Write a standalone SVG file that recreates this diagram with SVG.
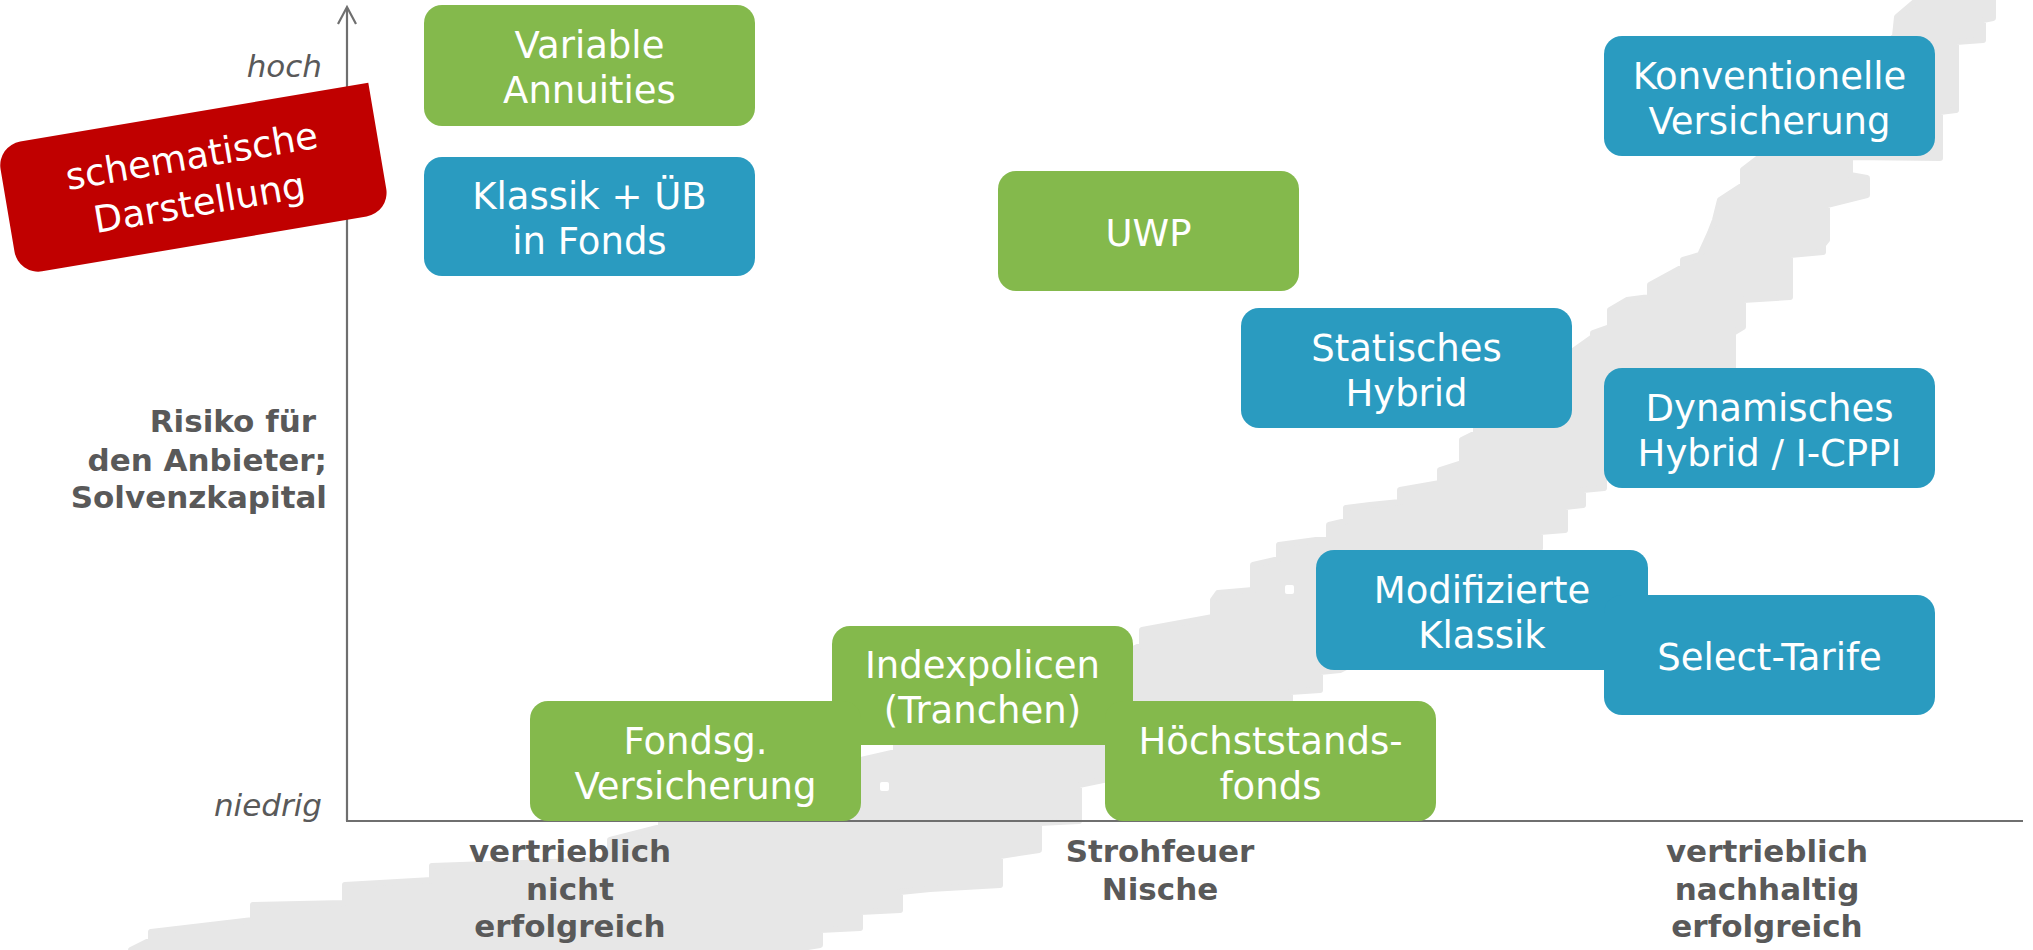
<svg xmlns="http://www.w3.org/2000/svg" width="2033" height="950" viewBox="0 0 2033 950">
<style>
.bg{fill:#e7e7e7;stroke:#e7e7e7;stroke-width:6;stroke-linejoin:round}
.g{fill:#84b94c}
.b{fill:#2a9bc0}
.t{font-family:"DejaVu Sans",Verdana,sans-serif;font-size:37px;fill:#ffffff;text-anchor:middle}
.ax{stroke:#6f6f6f;stroke-width:2.2;fill:none}
.lab{font-family:"DejaVu Sans",Verdana,sans-serif;font-size:31px;font-weight:bold;fill:#595959}
.it{font-family:"DejaVu Sans",Verdana,sans-serif;font-size:31px;font-style:italic;fill:#595959;text-anchor:end}
</style>
<rect width="2033" height="950" fill="#ffffff"/>
<g id="background">
<path class="bg" d="M1917,0 L1993,0 L1993,18 L1983,20 L1983,40 L1956,42 L1956,110 L1940,112 L1940,158 L1850,157 L1850,175 L1867,178 L1867,195 L1827,205 L1827,240 L1823,245 L1823,252 L1790,255 L1790,297 L1743,300 L1743,327 L1733,333 L1733,380 L1604,420 L1604,488 L1583,490 L1583,505 L1565,507 L1565,530 L1540,532 L1540,548 L1520,550 L1400,640 L1340,670 L1320,672 L1320,690 L1290,692 L1290,701 L1200,760 L1079,785 L1079,821 L1039,823 L1039,850 L1000,856 L1000,885 L930,889 L900,892 L900,910 L860,912 L860,928 L820,930 L820,945 L790,950 L131,950 L151,940 L151,932 L253,920 L253,905 L345,903 L345,885 L432,880 L432,866 L610,860 L610,840 L661,827 L661,815 L861,760 L896,752 L896,745 L1133,649 L1142,645 L1142,630 L1213,617 L1213,600 L1218,593 L1253,590 L1253,565 L1279,559 L1279,545 L1316,540 L1329,540 L1329,525 L1346,521 L1346,508 L1370,505 L1400,502 L1400,490 L1440,483 L1440,470 L1462,463 L1462,440 L1476,433 L1476,420 L1593,337 L1593,333 L1610,327 L1610,310 L1627,300 L1650,297 L1650,285 L1683,267 L1683,260 L1700,255 L1710,233 L1715,220 L1720,200 L1743,185 L1743,170 L1760,157 L1759,150 L1895,36 L1897,17 Z"/>
<rect x="880" y="782" width="9" height="9" rx="2" fill="#ffffff"/>
<rect x="1285" y="585" width="9" height="9" rx="2" fill="#ffffff"/>
</g>
<g id="axes">
<line class="ax" x1="347" y1="8" x2="347" y2="821"/>
<line class="ax" x1="346" y1="821" x2="2023" y2="821"/>
<polyline class="ax" points="338,24 347,7 356,24"/>
</g>
<g id="axis-labels">
<text class="it" x="322" y="77">hoch</text>
<text class="it" x="322" y="816">niedrig</text>
<text class="lab" text-anchor="end" x="316" y="432">Risiko für</text>
<text class="lab" text-anchor="end" x="327" y="471">den Anbieter;</text>
<text class="lab" text-anchor="end" x="327" y="508">Solvenzkapital</text>
<text class="lab" text-anchor="middle" x="570" y="862">vertrieblich</text>
<text class="lab" text-anchor="middle" x="570" y="900">nicht</text>
<text class="lab" text-anchor="middle" x="570" y="937">erfolgreich</text>
<text class="lab" text-anchor="middle" x="1160" y="862">Strohfeuer</text>
<text class="lab" text-anchor="middle" x="1160" y="900">Nische</text>
<text class="lab" text-anchor="middle" x="1767" y="862">vertrieblich</text>
<text class="lab" text-anchor="middle" x="1767" y="900">nachhaltig</text>
<text class="lab" text-anchor="middle" x="1767" y="937">erfolgreich</text>
</g>
<g id="n-variable">
<rect class="g" x="424" y="5" width="331" height="121" rx="18"/>
<text class="t" x="589.5" y="58">Variable</text>
<text class="t" x="589.5" y="103">Annuities</text>
</g>
<g id="n-klassik-ub">
<rect class="b" x="424" y="157" width="331" height="119" rx="18"/>
<text class="t" x="589.5" y="209">Klassik + ÜB</text>
<text class="t" x="589.5" y="254">in Fonds</text>
</g>
<g id="n-uwp">
<rect class="g" x="998" y="171" width="301" height="120" rx="18"/>
<text class="t" x="1148.5" y="245.5">UWP</text>
</g>
<g id="n-konventionell">
<rect class="b" x="1604" y="36" width="331" height="120" rx="18"/>
<text class="t" x="1769.5" y="88.5">Konventionelle</text>
<text class="t" x="1769.5" y="133.5">Versicherung</text>
</g>
<g id="n-statisch">
<rect class="b" x="1241" y="308" width="331" height="120" rx="18"/>
<text class="t" x="1406.5" y="360.5">Statisches</text>
<text class="t" x="1406.5" y="405.5">Hybrid</text>
</g>
<g id="n-dynamisch">
<rect class="b" x="1604" y="368" width="331" height="120" rx="18"/>
<text class="t" x="1769.5" y="420.5">Dynamisches</text>
<text class="t" x="1769.5" y="465.5">Hybrid / I-CPPI</text>
</g>
<g id="n-modklassik">
<rect class="b" x="1316" y="550" width="332" height="120" rx="18"/>
<text class="t" x="1482" y="602.5">Modifizierte</text>
<text class="t" x="1482" y="647.5">Klassik</text>
</g>
<g id="n-select">
<rect class="b" x="1604" y="595" width="331" height="120" rx="18"/>
<text class="t" x="1769.5" y="670">Select-Tarife</text>
</g>
<g id="n-index">
<rect class="g" x="832" y="626" width="301" height="119" rx="18"/>
<text class="t" x="982.5" y="678">Indexpolicen</text>
<text class="t" x="982.5" y="723">(Tranchen)</text>
</g>
<g id="n-fondsg">
<rect class="g" x="530" y="701" width="331" height="120" rx="18"/>
<text class="t" x="695.5" y="753.5">Fondsg.</text>
<text class="t" x="695.5" y="798.5">Versicherung</text>
</g>
<g id="n-hoechst">
<rect class="g" x="1105" y="701" width="331" height="120" rx="18"/>
<text class="t" x="1270.5" y="753.5">Höchststands-</text>
<text class="t" x="1270.5" y="798.5">fonds</text>
</g>
<g id="badge" transform="translate(193.4,179) rotate(-9.6)">
<path fill="#c00000" d="M-164.5,-65.8 L188.5,-65.8 L188.5,41.8 A24,24 0 0 1 164.5,65.8 L-164.5,65.8 A24,24 0 0 1 -188.5,41.8 L-188.5,-41.8 A24,24 0 0 1 -164.5,-65.8 Z"/>
<text class="t" x="2" y="-10">schematische</text>
<text class="t" x="2" y="37">Darstellung</text>
</g>
</svg>
